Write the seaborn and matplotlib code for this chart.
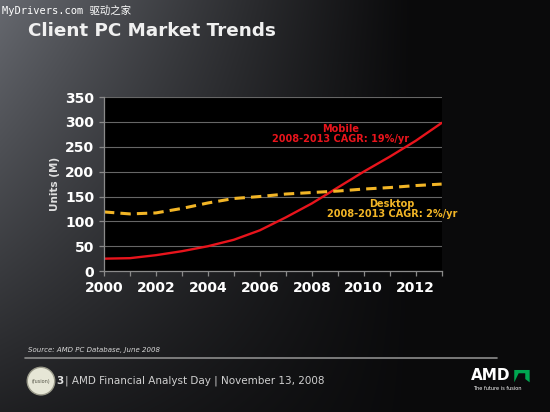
import numpy as np
import pandas as pd
import matplotlib.pyplot as plt
import matplotlib.patches as mpatches
import seaborn as sns

# Data (units, millions)
years = list(range(2000, 2014))
mobile = [25, 26, 32, 40, 50, 63, 82, 108, 136, 168, 200, 230, 262, 298]
desktop = [119, 115, 117, 126, 137, 146, 150, 155, 158, 161, 165, 168, 172, 175]
x_ticks = [2000, 2002, 2004, 2006, 2008, 2010, 2012]
y_ticks = [0, 50, 100, 150, 200, 250, 300, 350]

df = pd.DataFrame({'year': years * 2,
                   'units': mobile + desktop,
                   'series': ['Mobile'] * len(years) + ['Desktop'] * len(years)})

sns.set_style('dark')
plt.rcParams['font.family'] = ['DejaVu Sans', 'Noto Sans CJK SC']

fig = plt.figure(figsize=(5.5, 4.12), dpi=100)

# dark slide background with lighter top-left corner
bg = fig.add_axes([0, 0, 1, 1], zorder=-10)
xx, yy = np.meshgrid(np.linspace(0, 1, 550), np.linspace(0, 1, 412))
shade = np.clip(1 - xx / 0.75, 0, 1) ** 1.1 * np.clip(1 - yy / 1.25, 0, 1) ** 0.9
img = np.dstack([0.04 + 0.36 * shade, 0.04 + 0.37 * shade, 0.045 + 0.39 * shade])
bg.imshow(img, aspect='auto', extent=[0, 1, 0, 1], origin='upper')
bg.set_xlim(0, 1)
bg.set_ylim(0, 1)
bg.axis('off')

ax = fig.add_axes([0.189, 0.342, 0.614, 0.4224])
ax.set_facecolor('black')
sns.lineplot(data=df[df.series == 'Mobile'], x='year', y='units', ax=ax,
             color='#e8141c', linewidth=1.7)
sns.lineplot(data=df[df.series == 'Desktop'], x='year', y='units', ax=ax,
             color='#f2b526', linewidth=2.2, dashes=False, linestyle=(0, (3.4, 2.0)))

ax.set_xlim(2000, 2013)
ax.set_ylim(0, 350)
ax.set_xticks(x_ticks)
ax.set_xticks(years, minor=True)
ax.set_yticks(y_ticks)
ax.grid(axis='y', color='#666666', linewidth=0.8)
ax.grid(axis='x', visible=False)
for side in ['top', 'right']:
    ax.spines[side].set_visible(False)
for side in ['left', 'bottom']:
    ax.spines[side].set_color('#8a8a8a')
    ax.spines[side].set_linewidth(0.9)
ax.tick_params(which='both', direction='out', color='#8a8a8a', length=3.5, width=0.9,
               bottom=True, left=True)
ax.tick_params(labelcolor='white', labelsize=10)
for lbl in ax.get_xticklabels() + ax.get_yticklabels():
    lbl.set_fontweight('bold')
ax.set_xlabel('')
ax.set_ylabel('Units (M)', color='#e0e0e0', fontsize=7.5, fontweight='bold', labelpad=4)

ax.text(2009.1, 276, 'Mobile\n2008-2013 CAGR: 19%/yr', color='#e8141c', fontsize=7,
        fontweight='bold', ha='center', va='center', linespacing=1.05)
ax.text(2011.1, 125, 'Desktop\n2008-2013 CAGR: 2%/yr', color='#f2b526', fontsize=7,
        fontweight='bold', ha='center', va='center', linespacing=1.05)

# slide texts
fig.text(0.004, 0.975, 'MyDrivers.com 驱动之家', color='white', fontsize=7.5,
         family=['DejaVu Sans Mono', 'Noto Sans CJK SC'], va='center')
fig.text(0.051, 0.925, 'Client PC Market Trends', color='#f0f0f0', fontsize=13.2,
         fontweight='bold', va='center')
fig.text(0.051, 0.150, 'Source: AMD PC Database, June 2008', color='#d8d8d8', fontsize=5,
         style='italic', va='center')
fig.add_artist(plt.Line2D([0.046, 0.903], [0.131, 0.131], color='#8c8c8c', linewidth=1.2))
fig.text(0.102, 0.075, '3', color='#e0e0e0', fontsize=7.5, fontweight='bold', va='center')
fig.text(0.118, 0.075, '| AMD Financial Analyst Day | November 13, 2008', color='#d0d0d0',
         fontsize=7.5, va='center')

# fusion badge
fig.add_artist(mpatches.Ellipse((0.0745, 0.075), 0.05, 0.067, transform=fig.transFigure,
                                facecolor='#e6e6d6', edgecolor='#9a9a8a', linewidth=1))
fig.text(0.0745, 0.075, '(fusion)', color='#555548', fontsize=3.5, ha='center', va='center')

# AMD logo
fig.text(0.892, 0.088, 'AMD', color='white', fontsize=11, fontweight='bold',
         ha='center', va='center')
fig.add_artist(mpatches.Polygon([[0.935, 0.072], [0.935, 0.102], [0.963, 0.102],
                                 [0.963, 0.072], [0.955, 0.080], [0.955, 0.094],
                                 [0.943, 0.094]], closed=True, transform=fig.transFigure,
                                facecolor='#00a651', edgecolor='none'))
fig.text(0.905, 0.058, 'The future is fusion', color='white', fontsize=3.6,
         ha='center', va='center')

fig.savefig('out.png', dpi=100)
